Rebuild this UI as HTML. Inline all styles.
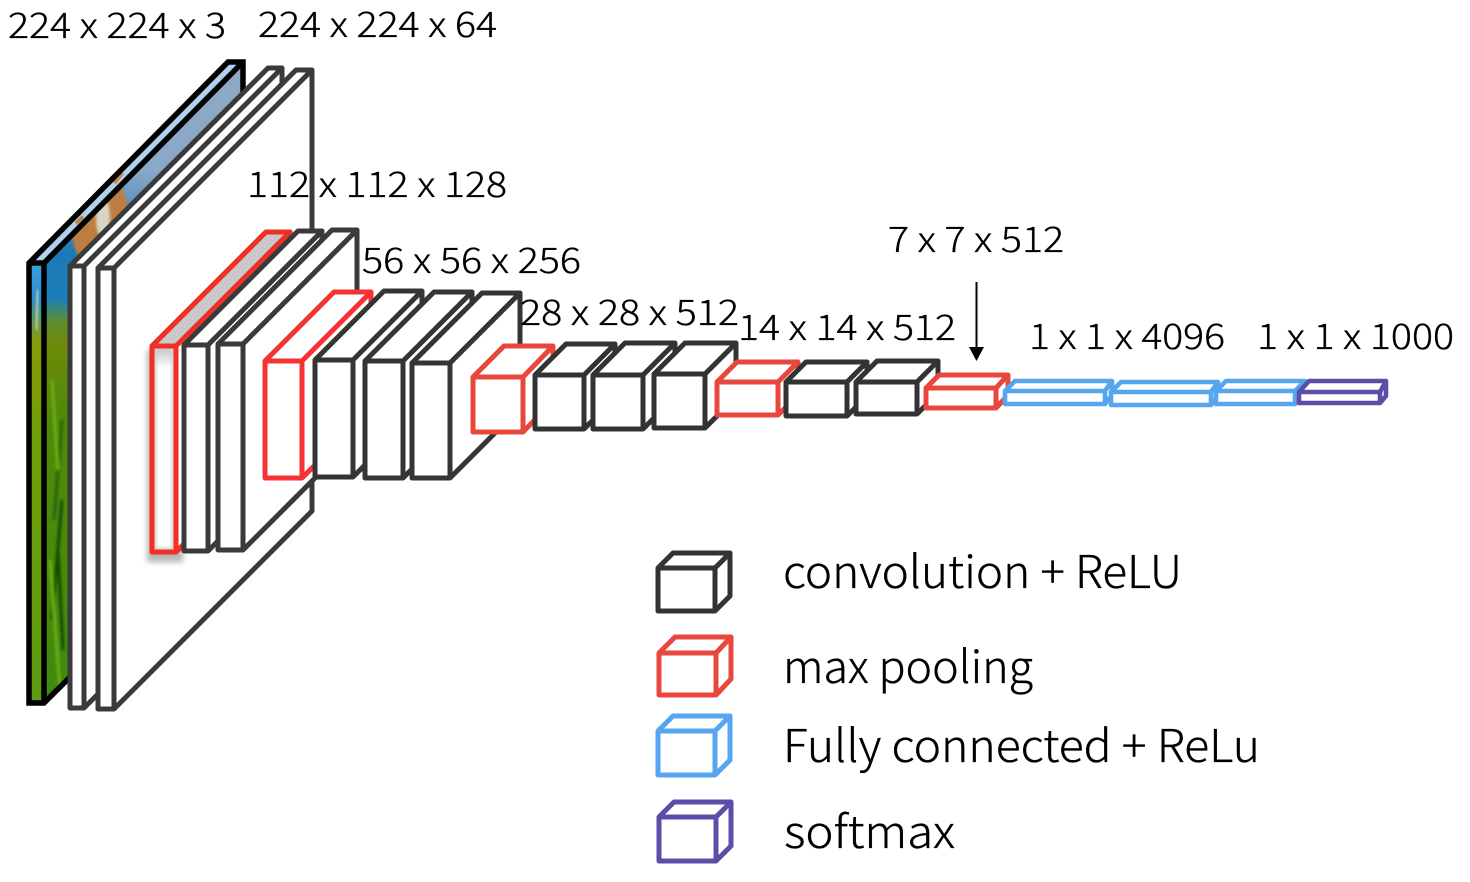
<!DOCTYPE html>
<html>
<head>
<meta charset="utf-8">
<style>
html,body{margin:0;padding:0;background:#fff;width:1470px;height:882px;overflow:hidden}
svg{display:block}
text{font-family:"Noto Sans CJK KR","Liberation Sans",sans-serif;font-weight:300;fill:#000;stroke:#000;stroke-width:0.35}
.l{font-size:35px}
.g{font-size:45px}
.c{fill:#fff;stroke-linejoin:round;stroke-linecap:round;stroke-width:5}
.t{stroke-width:4.6 !important}
</style>
</head>
<body>
<svg width="1470" height="882" viewBox="0 0 1470 882" xmlns="http://www.w3.org/2000/svg">
<defs>
<linearGradient id="side" gradientUnits="userSpaceOnUse" x1="0" y1="60" x2="0" y2="705">
<stop offset="0" stop-color="#8ea9c6"/>
<stop offset="0.17" stop-color="#8aa8c8"/>
<stop offset="0.3" stop-color="#1c78b8"/>
<stop offset="0.37" stop-color="#1a7fb8"/>
<stop offset="0.405" stop-color="#5f8c30"/>
<stop offset="0.44" stop-color="#6f8a08"/>
<stop offset="0.55" stop-color="#4f8a08"/>
<stop offset="1" stop-color="#3f8a10"/>
</linearGradient>
<linearGradient id="front" gradientUnits="userSpaceOnUse" x1="0" y1="263" x2="0" y2="703">
<stop offset="0" stop-color="#3f9fe0"/>
<stop offset="0.08" stop-color="#2a8fd0"/>
<stop offset="0.13" stop-color="#5f9a60"/>
<stop offset="0.18" stop-color="#8a9a08"/>
<stop offset="0.4" stop-color="#6ea008"/>
<stop offset="1" stop-color="#5f9a10"/>
</linearGradient>
<linearGradient id="rf" x1="0" y1="0" x2="0" y2="1">
<stop offset="0" stop-color="#c4c4c4"/>
<stop offset="0.1" stop-color="#fff"/>
<stop offset="1" stop-color="#fff"/>
</linearGradient>
<filter id="b1" x="-50%" y="-50%" width="200%" height="200%"><feGaussianBlur stdDeviation="1.2"/></filter>
<filter id="b2" x="-50%" y="-10%" width="200%" height="120%"><feGaussianBlur stdDeviation="3"/></filter>
<clipPath id="sc"><polygon points="44,263 243,62 243,505 44,703"/></clipPath>
</defs>

<!-- input image -->
<polygon points="29,263 228,62 243,62 44,263" fill="#b2d1ee"/>
<polygon points="75,222 82,215 84,218 77,225" fill="#b9853f"/>
<polygon points="112,182 120,172 124,174 116,184" fill="#c8884a"/>
<polygon points="44,263 243,62 243,505 44,703" fill="url(#side)"/>
<g clip-path="url(#sc)">
<ellipse cx="100" cy="222" rx="29" ry="52" fill="#bd7d40" filter="url(#b1)"/>
<ellipse cx="103" cy="218" rx="7" ry="21" fill="#d8d4c6" filter="url(#b1)"/>
<g filter="url(#b1)" stroke-width="3" fill="none">
<path d="M62 420 L54 520" stroke="#2a6008"/>
<path d="M62 500 L52 620" stroke="#134a06"/>
<path d="M52 380 L58 470" stroke="#6fae16"/>
<path d="M50 560 L60 690" stroke="#6fae16"/>
<path d="M58 550 L63 650" stroke="#134a06"/>
</g>
</g>
<rect x="29" y="263" width="15" height="440" fill="url(#front)"/>
<path d="M38 290 L36 330" stroke="#d9d2b0" stroke-width="2" filter="url(#b1)"/>
<path d="M29 263 L228 62 H243 V505 L44 703 H29 Z M29 263 H44 V703 M44 263 L243 62" fill="none" stroke="#000" stroke-width="5.5" stroke-linejoin="miter"/>

<!-- first conv layers -->
<g stroke="#3a3a3a">
<path class="c" d="M70 266 l198 -198 H282 V510 L84 708 H70 Z M70 266 H84 V708 M84 266 l198 -198"/>
<path class="c" d="M98 268 l198 -198 H312 V511 L114 709 H98 Z M98 268 H114 V709 M114 268 l198 -198"/>
</g>

<!-- block 2 -->
<rect x="147" y="350" width="36" height="212" fill="#b5b5b5" filter="url(#b2)"/>
<path class="c" stroke="#ee3124" d="M152 346 l114 -114 H290 V438 L176 552 H152 Z"/>
<polygon points="152,346 266,232 290,232 176,346" fill="#c9c9c9"/>
<rect x="154" y="348" width="20" height="202" fill="url(#rf)"/>
<rect x="155" y="349" width="18" height="200" fill="none" stroke="#cfcfcf" stroke-width="3" filter="url(#b1)"/>
<path d="M152 346 l114 -114 H290 V438 L176 552 H152 Z M152 346 H176 V552 M176 346 l114 -114" fill="none" stroke="#ee3124" stroke-width="5" stroke-linejoin="round"/>
<g stroke="#3a3a3a">
<path class="c" d="M184 345 l114 -114 H322 V437 L208 551 H184 Z M184 345 H208 V551 M208 345 l114 -114"/>
<path class="c" d="M218 344 l114 -114 H357 V436 L243 550 H218 Z M218 344 H243 V550 M243 344 l114 -114"/>
</g>

<!-- block 3 -->
<path class="c" stroke="#f43333" d="M265 361 l69 -69 H371 V409 L302 478 H265 Z M265 361 H302 V478 M302 361 l69 -69"/>
<g stroke="#353535">
<path class="c" d="M315 360 l69 -69 H422 V408 L353 477 H315 Z M315 360 H353 V477 M353 360 l69 -69"/>
<path class="c" d="M365 361 l69 -69 H472 V409 L403 478 H365 Z M365 361 H403 V478 M403 361 l69 -69"/>
<path class="c" d="M412 363 l70 -70 H520 V408 L450 478 H412 Z M412 363 H450 V478 M450 363 l70 -70"/>
</g>

<!-- block 4 -->
<path class="c" stroke="#e8473d" d="M473 377 l31 -31 H553 V401 L523 432 H473 Z M473 377 H523 V432 M523 377 l30 -31"/>
<g stroke="#333">
<path class="c" d="M535 375 l31 -31 H615 V398 L584 429 H535 Z M535 375 H584 V429 M584 375 l31 -31"/>
<path class="c" d="M593 375 l32 -32 H675 V397 L643 429 H593 Z M593 375 H643 V429 M643 375 l32 -32"/>
<path class="c" d="M654 374 l31 -31 H736 V397 L705 428 H654 Z M654 374 H705 V428 M705 374 l31 -31"/>
</g>

<!-- block 5 -->
<path class="c" stroke="#e8473d" d="M717 382 l20 -20 H798 V395 L778 415 H717 Z M717 382 H778 V415 M778 382 l20 -20"/>
<g stroke="#333">
<path class="c" d="M786 382 l20 -20 H867 V396 L847 416 H786 Z M786 382 H847 V416 M847 382 l20 -20"/>
<path class="c" d="M856 382 l21 -21 H938 V393 L917 414 H856 Z M856 382 H917 V414 M917 382 l21 -21"/>
</g>

<!-- pool5 -->
<path class="c" stroke="#e8473d" d="M926 388 l13 -13 H1008 V395 L996 408 H926 Z M926 388 H996 V408 M996 388 l12 -13"/>

<!-- fully connected -->
<g stroke="#55a5f0">
<path class="c t" d="M1005 391 l10 -10 H1112 V395 L1105 404 H1005 Z M1005 391 H1105 V404 M1105 391 l7 -10"/>
<path class="c t" d="M1111 392 l10 -10 H1218 V396 L1211 405 H1111 Z M1111 392 H1211 V405 M1211 392 l7 -10"/>
<path class="c t" d="M1216 391 l10 -10 H1305 V395 L1295 404 H1216 Z M1216 391 H1295 V404 M1295 391 l10 -10"/>
</g>
<path class="c t" stroke="#5a4ea8" d="M1299 392 l10 -11 H1386 V396 L1380 403 H1299 Z M1299 392 H1380 V403 M1380 392 l6 -11"/>

<!-- arrow -->
<line x1="976.5" y1="282" x2="976.5" y2="349" stroke="#000" stroke-width="2"/>
<polygon points="969,347 984,347 976.5,361" fill="#000"/>

<!-- legend -->
<path class="c" stroke="#333" d="M658 568 l15 -15 H730 V596 L715 611 H658 Z M658 568 H715 V611 M715 568 l15 -15"/>
<path class="c" stroke="#e8473d" d="M659 653 l16 -16 H731 V679 L716 695 H659 Z M659 653 H716 V695 M716 653 l15 -16"/>
<path class="c" stroke="#55a5f0" d="M658 731 l15 -15 H730 V760 L715 775 H658 Z M658 731 H715 V775 M715 731 l15 -15"/>
<path class="c" stroke="#5a4ea8" d="M659 817 l15 -15 H731 V846 L716 861 H659 Z M659 817 H716 V861 M716 817 l15 -15"/>

<!-- labels -->
<text class="l" x="8" y="38" textLength="218" lengthAdjust="spacingAndGlyphs">224 x 224 x 3</text>
<text class="l" x="258" y="37" textLength="239" lengthAdjust="spacingAndGlyphs">224 x 224 x 64</text>
<text class="l" x="247" y="197" textLength="260" lengthAdjust="spacingAndGlyphs">112 x 112 x 128</text>
<text class="l" x="362" y="273" textLength="219" lengthAdjust="spacingAndGlyphs">56 x 56 x 256</text>
<text class="l" x="520" y="325" textLength="219" lengthAdjust="spacingAndGlyphs">28 x 28 x 512</text>
<text class="l" x="738" y="340" textLength="218" lengthAdjust="spacingAndGlyphs">14 x 14 x 512</text>
<text class="l" x="888" y="252" textLength="176" lengthAdjust="spacingAndGlyphs">7 x 7 x 512</text>
<text class="l" x="1029" y="349" textLength="196" lengthAdjust="spacingAndGlyphs">1 x 1 x 4096</text>
<text class="l" x="1257" y="349" textLength="197" lengthAdjust="spacingAndGlyphs">1 x 1 x 1000</text>

<text class="g" x="783" y="588" textLength="399" lengthAdjust="spacingAndGlyphs">convolution + ReLU</text>
<text class="g" x="783" y="683" textLength="250" lengthAdjust="spacingAndGlyphs">max pooling</text>
<text class="g" x="783" y="762" textLength="477" lengthAdjust="spacingAndGlyphs">Fully connected + ReLu</text>
<text class="g" x="784" y="848" textLength="171" lengthAdjust="spacingAndGlyphs">softmax</text>
</svg>
</body>
</html>
